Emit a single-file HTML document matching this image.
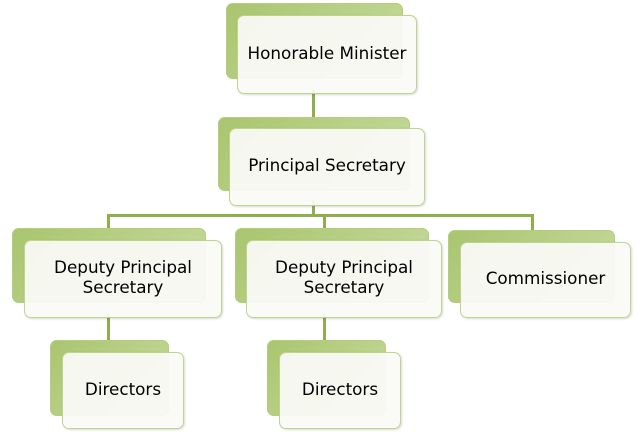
<!DOCTYPE html>
<html><head><style>
body{margin:0;width:640px;height:432px;background:#fff;position:relative;overflow:hidden;font-family:"DejaVu Sans","Liberation Sans",sans-serif;}
.b{position:absolute;border-radius:7px;background:linear-gradient(135deg,#a9c56e,#c7dba0);box-shadow:0 0 0 1px #b4ce80 inset;}
.f{position:absolute;border-radius:7px;background:rgba(250,250,246,0.94);border:1.5px solid #bcd58a;box-sizing:border-box;display:flex;align-items:center;justify-content:center;text-align:center;font-size:16.8px;color:#000;line-height:20px;padding-bottom:4px;box-shadow:1px 1px 2px rgba(0,0,0,.15);}
.l{position:absolute;background:#8fae50;}
</style></head><body>
<div class="l" style="left:312px;top:90px;width:3px;height:40px"></div>
<div class="l" style="left:312px;top:200px;width:3px;height:17px"></div>
<div class="l" style="left:107px;top:214px;width:427px;height:3px"></div>
<div class="l" style="left:107px;top:214px;width:3px;height:28px"></div>
<div class="l" style="left:323px;top:214px;width:3px;height:28px"></div>
<div class="l" style="left:531px;top:214px;width:3px;height:30px"></div>
<div class="l" style="left:107px;top:314px;width:3px;height:40px"></div>
<div class="l" style="left:323px;top:314px;width:3px;height:40px"></div>

<div class="b" style="left:226px;top:3px;width:177px;height:76px"></div>
<div class="f" style="left:237px;top:15px;width:180px;height:79px">Honorable Minister</div>

<div class="b" style="left:218px;top:117px;width:192px;height:74px"></div>
<div class="f" style="left:229px;top:128px;width:196px;height:78px">Principal Secretary</div>

<div class="b" style="left:12px;top:228px;width:194px;height:75px"></div>
<div class="f" style="left:24px;top:240px;width:198px;height:78px">Deputy Principal<br>Secretary</div>

<div class="b" style="left:235px;top:228px;width:194px;height:75px"></div>
<div class="f" style="left:246px;top:240px;width:196px;height:78px">Deputy Principal<br>Secretary</div>

<div class="b" style="left:448px;top:230px;width:167px;height:73px"></div>
<div class="f" style="left:460px;top:242px;width:171px;height:76px">Commissioner</div>

<div class="b" style="left:50px;top:340px;width:119px;height:76px"></div>
<div class="f" style="left:62px;top:352px;width:122px;height:77px">Directors</div>

<div class="b" style="left:267px;top:340px;width:119px;height:76px"></div>
<div class="f" style="left:279px;top:352px;width:122px;height:77px">Directors</div>
</body></html>
